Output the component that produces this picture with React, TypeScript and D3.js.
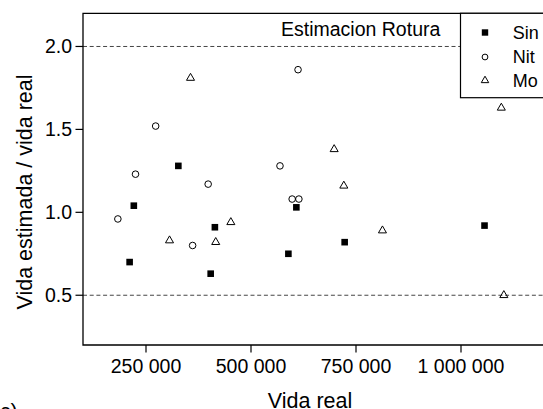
import React from "react";
import * as d3 from "d3";

const sinX = [211000, 221000, 327000, 404000, 414000, 589000, 608000, 723000, 1056000];
const sinY = [0.70, 1.04, 1.28, 0.63, 0.91, 0.75, 1.03, 0.82, 0.92];
const nitX = [183000, 225000, 273000, 361000, 398000, 569000, 598000, 614000, 612000];
const nitY = [0.96, 1.23, 1.52, 0.80, 1.17, 1.28, 1.08, 1.08, 1.86];
const moX = [306000, 356000, 416000, 452000, 698000, 721000, 813000, 1096000, 1102000];
const moY = [0.83, 1.81, 0.82, 0.94, 1.38, 1.16, 0.89, 1.63, 0.50];
const xTicks = [250000, 500000, 750000, 1000000];
const yTicks = [0.5, 1.0, 1.5, 2.0];
const refLines = [0.5, 2.0];
const legendLabels = ["Sin", "Nit", "Mo"];

const W = 543;
const H = 409;
const FONT = "'Liberation Sans', Arial, Helvetica, sans-serif";

export default function App() {
  const x = d3.scaleLinear().domain([100000, 1200000]).range([83, 545]);
  const y = d3.scaleLinear().domain([0.2, 2.2]).range([345, 13.3]);
  const fmt = (v: number) => d3.format(",")(v).replace(/,/g, "\u2009 ").replace(/\u2009 /g, " ");
  const tri = d3.symbol().type(d3.symbolTriangle).size(28)();
  const triL = d3.symbol().type(d3.symbolTriangle).size(24)();
  const sq = 6.6;

  const sin = sinX.map((v, i) => [v, sinY[i]]);
  const nit = nitX.map((v, i) => [v, nitY[i]]);
  const mo = moX.map((v, i) => [v, moY[i]]);

  const legX = 460.5;
  const legY = 13.3;
  const legRows = [32.5, 57, 80.5];

  return (
    <svg
      width={W}
      height={H}
      style={{ position: "absolute", left: 0, top: 0, background: "#fff" }}
      fontFamily={FONT}
    >
      <rect x={0} y={0} width={W} height={H} fill="#fff" />
      {/* reference lines */}
      {refLines.map((v) => (
        <line
          key={v}
          x1={x.range()[0]}
          x2={x.range()[1]}
          y1={y(v)}
          y2={y(v)}
          stroke="#444"
          strokeWidth={1}
          strokeDasharray="4,2.7"
        />
      ))}
      {/* frame */}
      <path
        d={`M${x.range()[1]},${y.range()[1]}H${x.range()[0]}V${y.range()[0]}H${x.range()[1]}`}
        fill="none"
        stroke="#000"
        strokeWidth={1.3}
      />
      {/* x ticks */}
      {xTicks.map((t) => (
        <g key={t}>
          <line x1={x(t)} x2={x(t)} y1={345} y2={352.5} stroke="#000" strokeWidth={1.2} />
          <text x={x(t)} y={373.3} textAnchor="middle" fontSize={19.5} fill="#000">
            {fmt(t)}
          </text>
        </g>
      ))}
      {/* y ticks */}
      {yTicks.map((t) => (
        <g key={t}>
          <line x1={75.5} x2={83} y1={y(t)} y2={y(t)} stroke="#000" strokeWidth={1.2} />
          <text x={72} y={y(t)} dy="0.35em" textAnchor="end" fontSize={19.5} fill="#000">
            {t.toFixed(1)}
          </text>
        </g>
      ))}
      {/* axis titles */}
      <text x={310} y={408} textAnchor="middle" fontSize={21.5} fill="#000">
        Vida real
      </text>
      <text
        transform={`translate(32,192) rotate(-90)`}
        textAnchor="middle"
        fontSize={21.5}
        fill="#000"
      >
        Vida estimada / vida real
      </text>
      <text x={0} y={418} fontSize={21} fill="#000">
        c)
      </text>
      <text x={281} y={36} fontSize={19.5} fill="#000">
        Estimacion Rotura
      </text>
      {/* points */}
      {sin.map((d, i) => (
        <rect
          key={"s" + i}
          x={x(d[0]) - sq / 2}
          y={y(d[1]) - sq / 2}
          width={sq}
          height={sq}
          fill="#000"
        />
      ))}
      {nit.map((d, i) => (
        <circle
          key={"n" + i}
          cx={x(d[0])}
          cy={y(d[1])}
          r={3.3}
          fill="none"
          stroke="#000"
          strokeWidth={1}
        />
      ))}
      {mo.map((d, i) => (
        <path
          key={"m" + i}
          d={tri as string}
          transform={`translate(${x(d[0])},${y(d[1])})`}
          fill="none"
          stroke="#000"
          strokeWidth={1}
        />
      ))}
      {/* legend */}
      <rect x={legX} y={legY} width={120} height={97.7 - legY} fill="#fff" stroke="#000" strokeWidth={1.2} />
      <rect x={485 - 3.2} y={legRows[0] - 3.2} width={6.4} height={6.4} fill="#000" />
      <circle cx={485} cy={legRows[1]} r={2.9} fill="none" stroke="#000" strokeWidth={1} />
      <path d={triL as string} transform={`translate(485,${legRows[2]})`} fill="none" stroke="#000" strokeWidth={1} />
      {legendLabels.map((l, i) => (
        <text key={l} x={512.7} y={legRows[i]} dy="0.35em" fontSize={18} fill="#000">
          {l}
        </text>
      ))}
    </svg>
  );
}
